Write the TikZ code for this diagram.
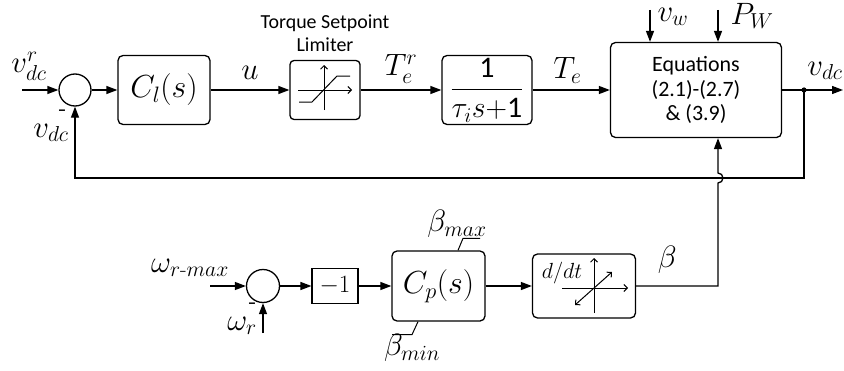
\RequirePackage{fix-cm}
\documentclass[tikz,border=0pt]{standalone}
\usepackage{amsmath}
\usepackage{fontspec}
\setsansfont{Carlito}
\usetikzlibrary{arrows.meta,positioning,calc}

\begin{document}
\begin{tikzpicture}[x=1bp, y=1bp,
        block/.style={draw, rounded corners=5bp, line width=1.3bp,
            minimum width=92bp, minimum height=69bp, inner sep=0pt},
        sumnode/.style={draw, circle, line width=1.3bp, minimum size=32bp, inner sep=0pt},
        sig/.style={-{Triangle[length=11bp,width=8bp]}, line width=1.3bp},
        axisarrow/.style={-{Straight Barb[length=3.5bp,width=7bp]}, line width=1bp},
        lbl/.style={font=\fontsize{31}{36}\selectfont, inner sep=1bp},
        blockfont/.style={font=\fontsize{32}{38}\selectfont},
        txt/.style={font=\sffamily\fontsize{20}{23}\selectfont, align=center, inner sep=0pt},
        minus/.style={font=\sffamily\bfseries\fontsize{17}{17}\selectfont, inner sep=0pt},
    ]
        \useasboundingbox (0,0) rectangle (844,370);

        % Speed / dc voltage loop
        \node[sumnode] (sum1) at (75,280) {};
        \node[block, blockfont] (Cl) at (164,280) {$C_l(s)$};
        \node[block, rounded corners=4bp, minimum width=70bp, minimum height=59bp] (lim) at (325,280) {};
        \node[block, minimum width=90bp] (tf) at (487,280)
            {\fontsize{30}{34}\selectfont$\dfrac{\mathsf{1}}{\tau_i s{\mathsf{+}}\mathsf{1}}$};
        \node[block, minimum width=171bp, minimum height=95bp, txt, font=\sffamily\fontsize{22}{24.5}\selectfont]
            (eq) at (696,280) {Equations\\(2.1)-(2.7)\\\& (3.9)};
        \node[txt] (limtxt) at (325,337) {Torque Setpoint\\Limiter};

        % Pitch loop
        \node[sumnode, minimum size=33bp] (sum2) at (263,84) {};
        \node[draw, line width=1.1bp, minimum width=46bp, minimum height=35bp, inner sep=0pt,
            font=\fontsize{25}{30}\selectfont] (neg) at (335,84) {$-1$};
        \node[block, blockfont, minimum width=93bp, minimum height=70bp] (Cp) at (438.5,84) {$C_p(s)$};
        \node[block, minimum width=103bp, minimum height=64bp] (ddt) at (584,84) {};

        % Free ends and corners
        \coordinate (vref) at (22,280);
        \coordinate (vout) at (843,280);
        \coordinate (tap) at (804,280);
        \coordinate (fb) at (0,192);
        \coordinate (vwin) at (650,360);
        \coordinate (pwin) at (718,360);
        \coordinate (wref) at (210,84);
        \coordinate (wr) at (263,37);
        \coordinate (bturn) at (718,84);
        \coordinate (hop) at (718,187);

        % Labels
        \node[lbl] (vdcr) at (29,304) {$v_{dc}^{r}$};
        \node[lbl] (vdcfb) at (51,237) {$v_{dc}$};
        \node[lbl] (vdcout) at (825,299) {$v_{dc}$};
        \node[lbl] (vw) at (673,353) {$v_w$};
        \node[lbl] (pw) at (752,354) {$P_W$};
        \node[lbl] (wmax) at (190,102) {$\omega_{r\text{-}max}$};
        \node[lbl] (wrl) at (242,44) {$\omega_r$};
        \node[lbl] (bmax) at (457,146) {$\beta_{max}$};
        \node[lbl] (bmin) at (412,22) {$\beta_{min}$};
        \node[minus] (m1) at (62,257) {–};
        \node[minus] (m2) at (252,64) {–};

        % Signals, top row
        \draw[sig] (vref) -- (sum1);
        \draw[sig] (sum1) -- (Cl);
        \draw[sig] (Cl) -- node[lbl, above=9bp] {$u$} (lim);
        \draw[sig] (lim) -- node[lbl, above=5bp] {$T_e^r$} (tf);
        \draw[sig] (tf) -- node[lbl, above=5bp, pos=0.45] {$T_e$} (eq);
        \draw[sig] (eq) -- (vout);
        \draw[sig] (vwin) -- (vwin |- eq.north);
        \draw[sig] (pwin) -- (pwin |- eq.north);
        \fill (tap) circle (2.6bp);
        \draw[sig] (tap) -- (tap |- fb) -| (sum1);

        % Signals, bottom row
        \draw[sig] (wref) -- (sum2);
        \draw[sig] (wr) -- (sum2);
        \draw[sig] (sum2) -- (neg);
        \draw[sig] (neg) -- (Cp);
        \draw[sig] (Cp) -- (ddt);
        \draw[sig] (ddt) -- node[lbl, above=11bp, pos=0.38] {$\beta$} (bturn) -- (hop)
            arc[start angle=-90, end angle=90, radius=5bp] -- (bturn |- eq.south);

        % Saturation limits on C_p
        \draw[line width=1bp] ([xshift=19.5bp]Cp.north) -- ++(5,12) -- ++(17,0);
        \draw[line width=1bp] ([xshift=-20.5bp]Cp.south) -- ++(-6,-13) -- ++(-20,0);

        % Limiter symbol
        \begin{scope}[shift={(lim.center)}]
            \draw[axisarrow] (-1,-20) -- (-1,25);
            \draw[axisarrow] (-27,0) -- (27,0);
            \draw[line width=1bp] (-26,-12) -- (-13,-12) -- (12,14) -- (25,14);
        \end{scope}

        % Rate limiter symbol
        \begin{scope}[shift={(ddt.center)}]
            \node[lbl, font=\fontsize{22}{26}\selectfont, inner sep=0pt] (ddtl) at (-22,13) {$d/dt$};
            \draw[axisarrow] (10,-27) -- (10,28);
            \draw[axisarrow] (-22,-2) -- (44,-2);
            \draw[axisarrow, {Straight Barb[length=3.5bp,width=7bp]}-{Straight Barb[length=3.5bp,width=7bp]}] (-9,-19) -- (28,14);
        \end{scope}
\end{tikzpicture}
\end{document}
